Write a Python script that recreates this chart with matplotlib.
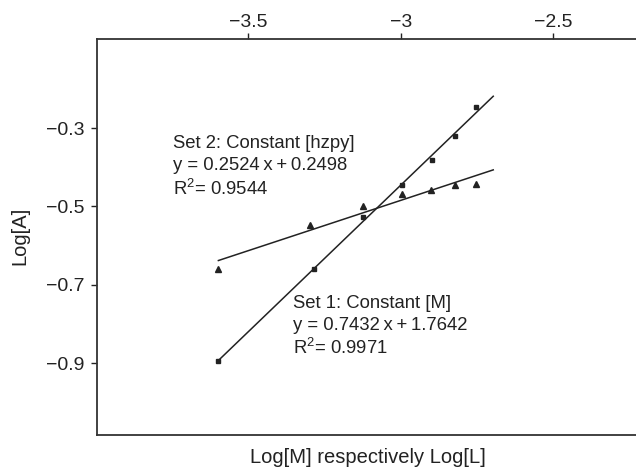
import numpy as np
import matplotlib
matplotlib.use('Agg')
import matplotlib.pyplot as plt

plt.rcParams['font.family'] = ['Liberation Sans', 'DejaVu Sans']
plt.rcParams['mathtext.fontset'] = 'custom'
plt.rcParams['mathtext.rm'] = 'Liberation Sans'
plt.rcParams['mathtext.it'] = 'Liberation Sans'

# Set 1: constant [M] (squares)
x_set1 = [-3.598, -3.284, -3.123, -2.997, -2.899, -2.821, -2.752]
y_set1 = [-0.894, -0.660, -0.526, -0.446, -0.381, -0.320, -0.246]

# Set 2: constant [hzpy] (triangles)
x_set2 = [-3.598, -3.298, -3.123, -2.997, -2.901, -2.821, -2.754]
y_set2 = [-0.659, -0.547, -0.498, -0.468, -0.459, -0.444, -0.442]

fit_x_end = -2.697  # fitted lines are drawn up to here

label_set1 = ['Set 1: Constant [M]', 'y = 0.7432\u2009x\u2009+\u20091.7642', r'R$^{2}$= 0.9971']
label_set2 = ['Set 2: Constant [hzpy]', 'y = 0.2524\u2009x\u2009+\u20090.2498', r'R$^{2}$= 0.9544']

xticks = [-3.5, -3.0, -2.5]
xtick_labels = ['\u22123.5', '\u22123', '\u22122.5']
yticks = [-0.9, -0.7, -0.5, -0.3]

ink = '#222222'

fig = plt.figure(figsize=(6.36, 4.67), dpi=100)
ax = fig.add_axes([0.152, 0.0685, 0.848, 0.848])

ax.plot(x_set1, y_set1, 's', color=ink, markersize=3.2, zorder=3)
ax.plot(x_set2, y_set2, '^', color=ink, markersize=5, zorder=3)

# linear regression lines
for xs, ys in [(x_set1, y_set1), (x_set2, y_set2)]:
    fit_fn = np.poly1d(np.polyfit(xs, ys, 1))
    xx = np.array([min(xs), fit_x_end])
    ax.plot(xx, fit_fn(xx), '-', color=ink, lw=1.1)

# annotations
for i, s in enumerate(label_set2):
    ax.text(-3.748, [-0.3503, -0.4065, -0.4704][i], s, fontsize=13.3, color=ink, va='baseline')
for i, s in enumerate(label_set1):
    ax.text(-3.354, [-0.759, -0.8153, -0.8766][i], s, fontsize=13.3, color=ink, va='baseline')

ax.set_xlim(-3.997, -2.229)
ax.set_ylim(-1.084, -0.072)

ax.xaxis.tick_top()
ax.set_xticks(xticks)
ax.set_xticklabels(xtick_labels)
ax.set_yticks(yticks)
ax.tick_params(axis='x', direction='out', length=4.5, width=1.0, pad=1.5, labelsize=14, colors=ink)
ax.tick_params(axis='y', direction='out', length=4.5, width=1.0, pad=4, labelsize=14, colors=ink)

for side in ['left', 'top', 'bottom']:
    ax.spines[side].set_linewidth(1.3)
    ax.spines[side].set_color('#333333')
ax.spines['right'].set_visible(False)

ax.set_xlabel('Log[M] respectively Log[L]', fontsize=14.5, color=ink, va='baseline')
ax.xaxis.set_label_coords(0.503, -0.0707)
ax.set_ylabel('Log[A]', fontsize=14.5, color=ink, va='center', ha='center')
ax.yaxis.set_label_coords(-0.1422, 0.5025)

fig.savefig('out.png', dpi=100)
